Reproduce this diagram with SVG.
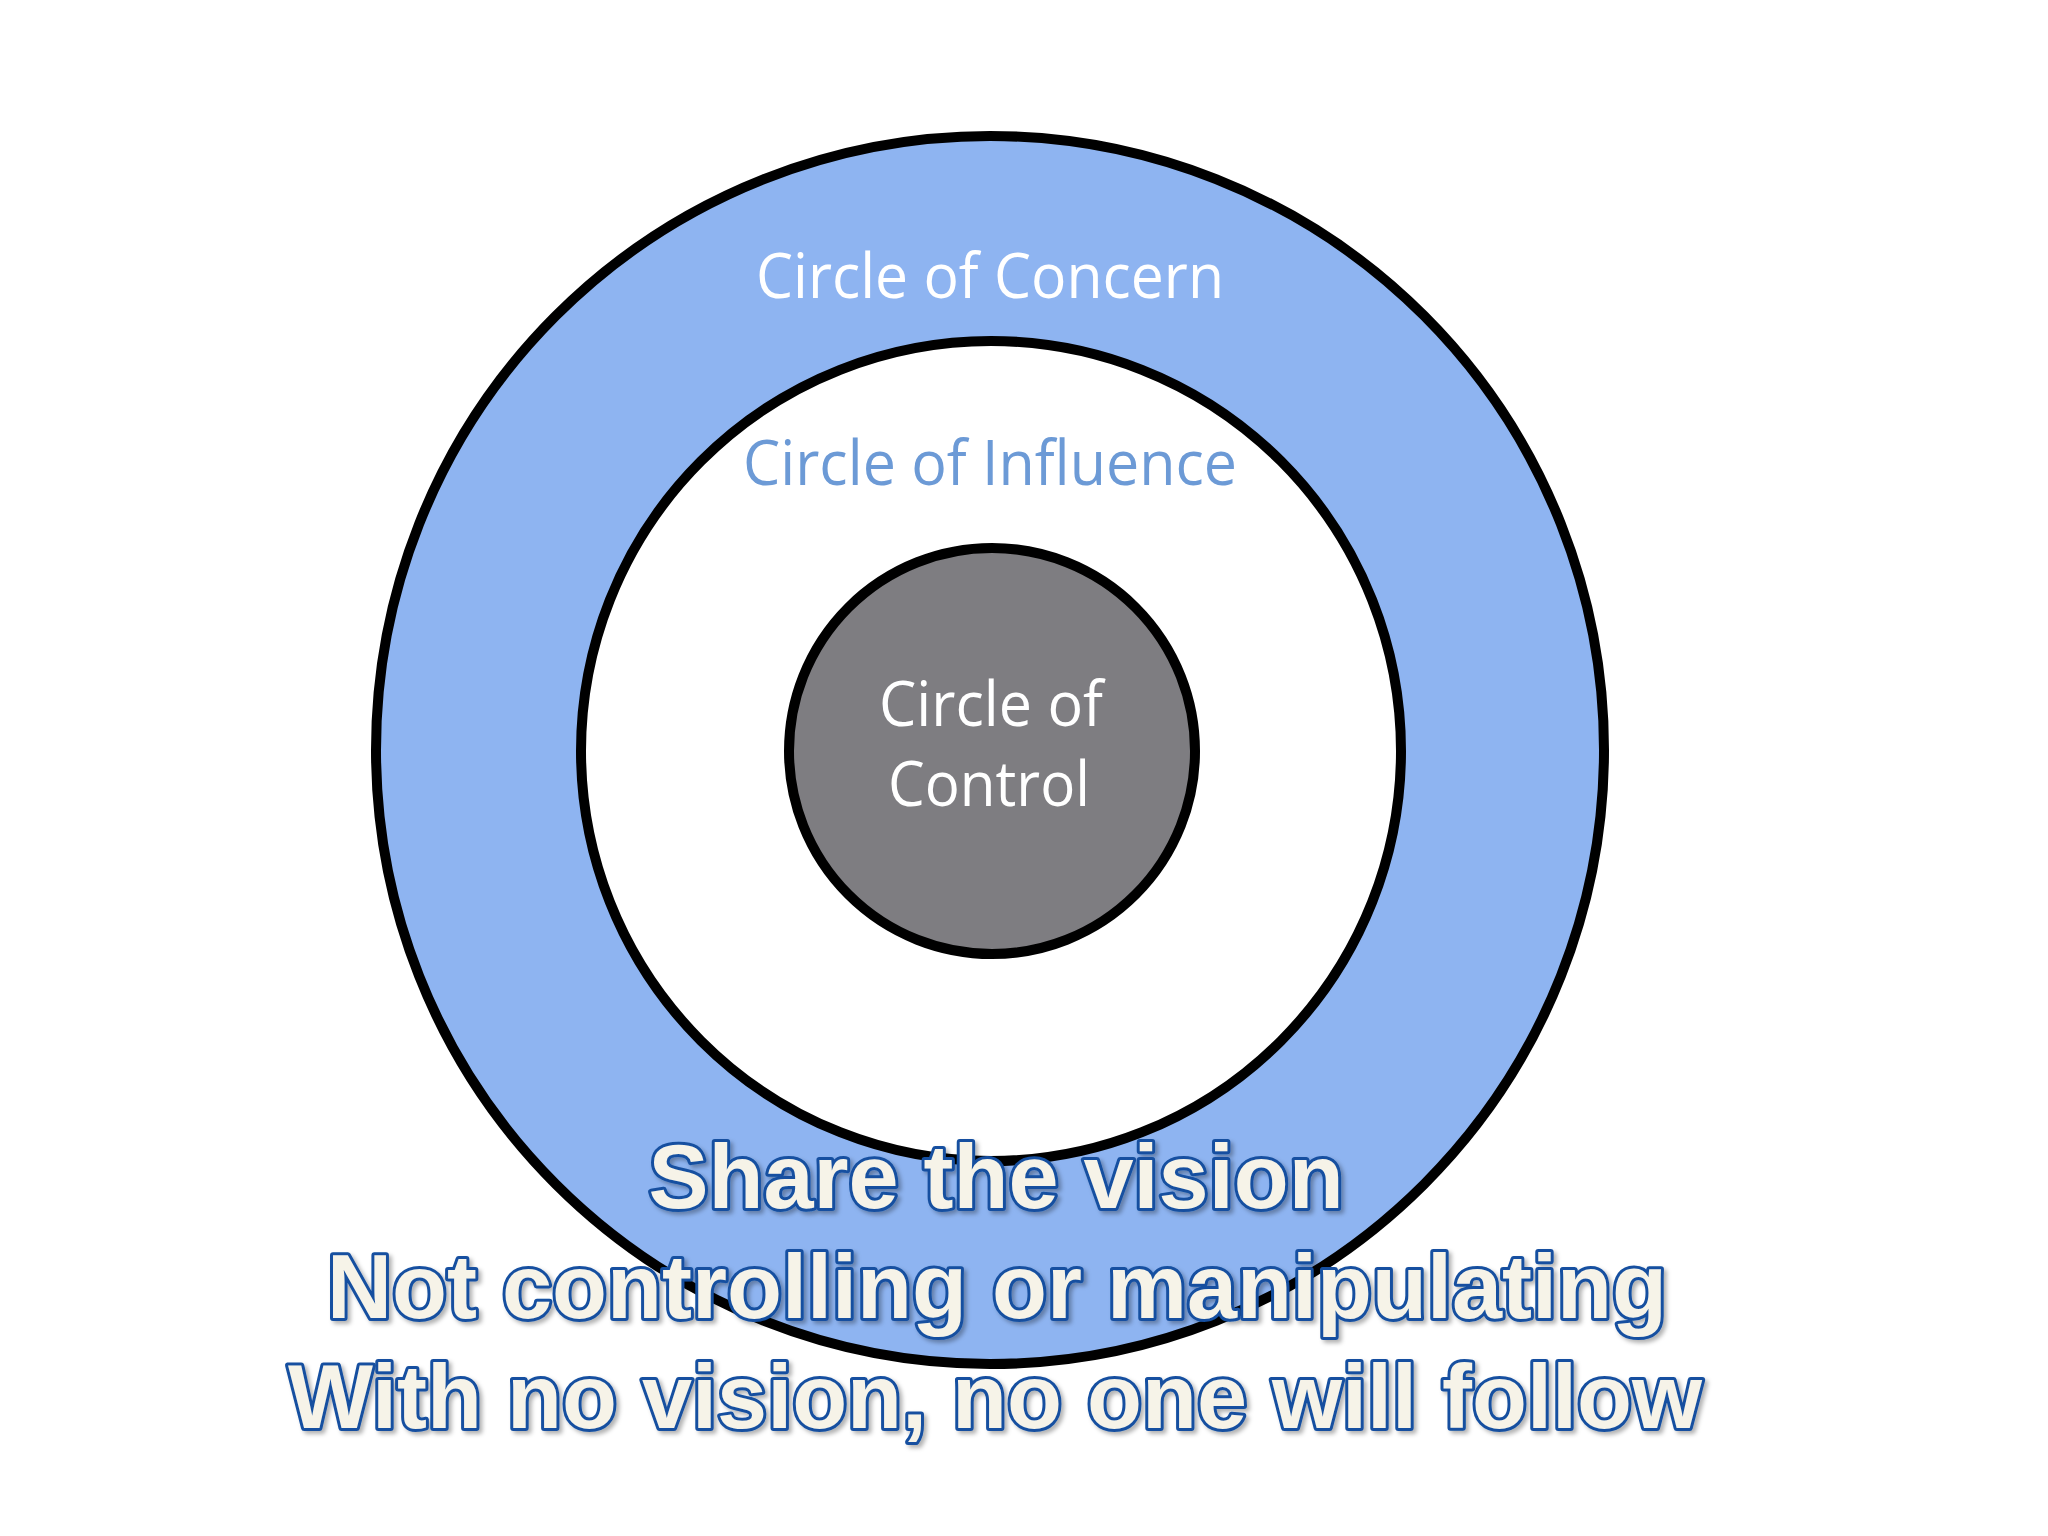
<svg xmlns="http://www.w3.org/2000/svg" width="2048" height="1536" viewBox="0 0 2048 1536">
<defs>
<style>
.ring{stroke:#000;stroke-width:10}
.lbl{font-family:"Open Sans","Noto Sans",sans-serif;text-anchor:middle}
.big{font-family:"Liberation Sans",Arial,sans-serif;font-weight:bold;font-size:90px;fill:#F6F3E8;stroke:#1550A0;stroke-width:6;stroke-linejoin:round;text-anchor:middle;paint-order:stroke}
</style>
<filter id="sh" x="-5%" y="-20%" width="110%" height="140%">
<feDropShadow dx="3" dy="3" stdDeviation="2" flood-color="#000" flood-opacity="0.3"/>
</filter>
</defs>
<rect width="2048" height="1536" fill="#fff"/>
<g id="concern">
<circle class="ring" cx="990" cy="750" r="614" fill="#8EB4F1"/>
<text class="lbl" x="990" y="298" font-size="62" fill="#fff" textLength="468" lengthAdjust="spacingAndGlyphs">Circle of Concern</text>
</g>
<g id="influence">
<circle class="ring" cx="991" cy="751" r="410" fill="#fff"/>
<text class="lbl" x="990" y="485" font-size="62" fill="#6C9AD6" textLength="494" lengthAdjust="spacingAndGlyphs">Circle of Influence</text>
</g>
<g id="control">
<circle class="ring" cx="992" cy="751" r="203" fill="#7E7D81"/>
<text class="lbl" x="991" y="726" font-size="62" fill="#fff" textLength="224" lengthAdjust="spacingAndGlyphs">Circle of</text>
<text class="lbl" x="989" y="806" font-size="62" fill="#fff" textLength="202" lengthAdjust="spacingAndGlyphs">Control</text>
</g>
<g id="caption" filter="url(#sh)">
<text class="big" x="996" y="1208">Share the vision</text>
<text class="big" x="997" y="1318">Not controlling or manipulating</text>
<text class="big" x="995" y="1428">With no vision, no one will follow</text>
</g>
<g id="connectors"/>
</svg>
